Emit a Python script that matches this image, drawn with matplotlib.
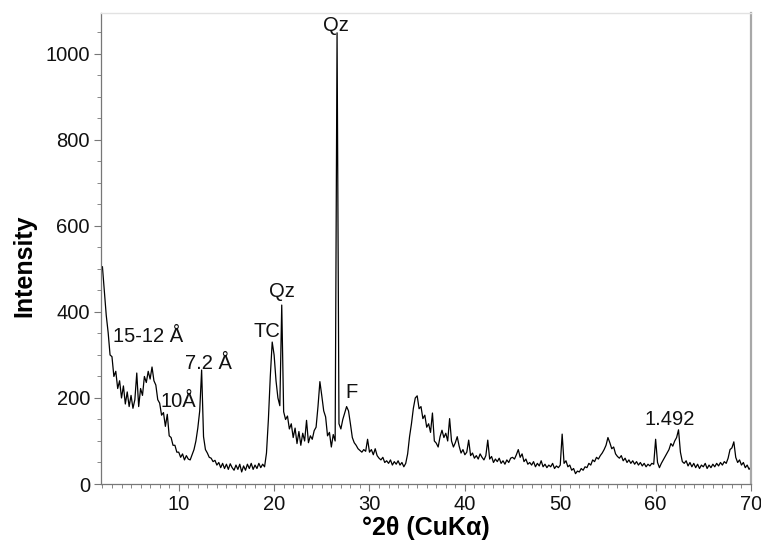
import numpy as np
import matplotlib
matplotlib.use("Agg")
import matplotlib.pyplot as plt
from matplotlib.ticker import MultipleLocator

plt.rcParams['font.family'] = ['Liberation Sans', 'DejaVu Sans']

# XRD pattern, 0.2 deg steps starting at 2 deg 2theta
start_angle = 2.0
step = 0.2
counts_low = [505, 448, 392, 352, 300, 296, 250, 262, 222, 240,
              200, 228, 186, 214, 180, 206, 176, 196, 258, 180,
              222, 206, 250, 236, 262, 244, 272, 240, 230, 196,
              188, 160, 166, 134, 162, 112, 108, 90, 90, 74,
              74, 62, 70, 56, 66, 58, 56, 68, 80, 100,
              130, 170, 265, 110, 80, 72, 62, 60, 52, 55,
              44, 50, 38, 48, 36, 46, 34, 47, 38, 32,
              44, 34, 46, 28, 42, 32, 46, 36, 48, 34,
              44, 36, 48, 38, 46, 40, 72, 150, 250, 330]
counts_mid = [300, 240, 200, 182, 416, 168, 150, 158, 128, 140,
              108, 130, 94, 122, 90, 118, 100, 148, 96, 112,
              104, 124, 132, 180, 238, 205, 170, 156, 112, 120,
              86, 115, 100, 1049, 140, 128, 150, 165, 180, 170,
              140, 108, 96, 90, 82, 78, 74, 80, 76, 104,
              74, 80, 68, 82, 66, 60, 56, 62, 50, 54,
              48, 56, 44, 52, 46, 54, 44, 50, 40, 48,
              70, 110, 140, 176, 200, 205, 175, 180, 152, 160,
              132, 140, 120, 165, 100, 95, 86, 110, 125, 108,
              118, 100, 152, 100, 86, 96, 110, 88, 72, 80]
counts_high = [68, 74, 102, 66, 72, 60, 66, 58, 70, 62,
               56, 66, 102, 58, 64, 50, 58, 52, 60, 48,
               54, 46, 56, 50, 60, 62, 58, 68, 80, 62,
               70, 52, 58, 46, 50, 44, 52, 40, 48, 42,
               54, 40, 46, 38, 44, 40, 48, 36, 42, 38,
               44, 116, 48, 54, 40, 44, 32, 36, 24, 30,
               28, 36, 32, 40, 38, 48, 44, 56, 52, 62,
               58, 66, 72, 80, 90, 108, 96, 82, 86, 70,
               64, 60, 66, 54, 60, 50, 56, 48, 54, 46,
               52, 44, 50, 42, 48, 40, 46, 42, 48, 46,
               104, 50, 38, 48, 56, 64, 72, 80, 94, 88,
               100, 108, 126, 74, 52, 48, 54, 42, 50, 40,
               48, 38, 46, 36, 44, 40, 48, 36, 44, 38,
               46, 40, 48, 42, 50, 44, 52, 48, 60, 80,
               84, 98, 62, 50, 56, 44, 50, 38, 44, 34,
               40]

# peak labels: text, 2theta, intensity
peak_labels = ['Qz', '15-12 Å', '7.2 Å', '10Å', 'TC', 'Qz', 'F', '1.492']
label_x = [26.5, 6.8, 13.1, 9.95, 19.2, 20.85, 28.1, 61.5]
label_y = [1067, 342, 281, 191, 354, 447, 212, 149]

counts = np.array(counts_low + counts_mid + counts_high)
two_theta = start_angle + step * np.arange(len(counts))

fig = plt.figure(figsize=(7.61, 5.44), dpi=100)
ax = fig.add_axes([101/761, 60/544, 650/761, 471/544])

ax.plot(two_theta, counts, color='black', lw=0.9)

for txt, x, y in zip(peak_labels, label_x, label_y):
    ax.text(x, y, txt, fontsize=14.5, ha='center', va='center', color='#111111')

ax.set_xlim(1.85, 70)
ax.set_ylim(0, 1095)
ax.xaxis.set_major_locator(MultipleLocator(10))
ax.xaxis.set_minor_locator(MultipleLocator(1))
ax.yaxis.set_major_locator(MultipleLocator(200))
ax.yaxis.set_minor_locator(MultipleLocator(50))
ax.set_xticks([10, 20, 30, 40, 50, 60, 70])

ax.tick_params(which='major', length=5, width=0.8, color='#777777',
               labelsize=14.5, labelcolor='#111111', pad=3)
ax.tick_params(which='minor', length=3, width=0.7, color='#888888')

for side in ['left', 'bottom']:
    ax.spines[side].set_color('#777777')
    ax.spines[side].set_linewidth(0.9)
ax.spines['top'].set_color('#e2e2e2')
ax.spines['top'].set_linewidth(1.0)
ax.spines['right'].set_color('#a8a8a8')
ax.spines['right'].set_linewidth(1.6)

ax.set_xlabel('°2θ (CuKα)', fontsize=18, fontweight='bold', labelpad=1)
ax.set_ylabel('Intensity', fontsize=18, fontweight='bold')
ax.yaxis.set_label_coords(-0.1, 0.463)

fig.savefig('out.png', dpi=100)
